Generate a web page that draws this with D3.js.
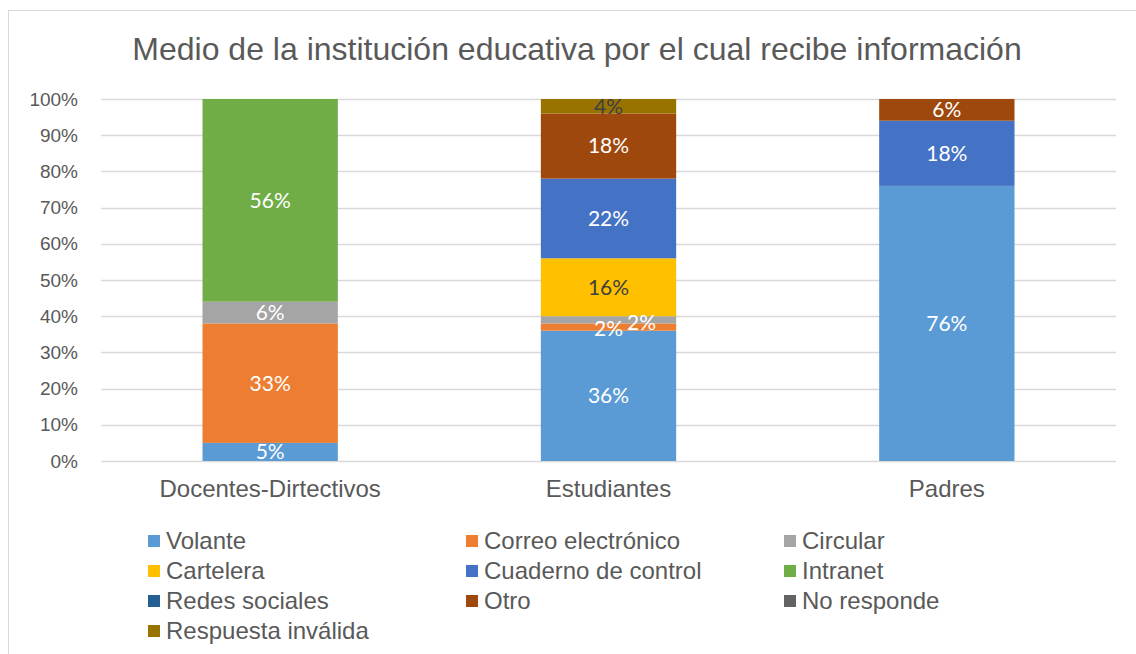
<!DOCTYPE html>
<html>
<head>
<meta charset="utf-8">
<script src="https://cdn.jsdelivr.net/npm/d3@7"></script>
<style>
  body { margin: 0; background: #fff; }
  svg text { font-family: "Liberation Sans", Arial, sans-serif; }
</style>
</head>
<body>
<div id="chart"></div>
<script>
// categories and series (percent of each group)
var categories = ["Docentes-Dirtectivos", "Estudiantes", "Padres"];
var seriesNames = ["Volante", "Correo electrónico", "Circular", "Cartelera",
                   "Cuaderno de control", "Intranet", "Redes sociales", "Otro",
                   "No responde", "Respuesta inválida"];
var volante    = [5, 36, 76];
var correo     = [33, 2, 0];
var circular   = [6, 2, 0];
var cartelera  = [0, 16, 0];
var cuaderno   = [0, 22, 18];
var intranet   = [56, 0, 0];
var redes      = [0, 0, 0];
var otro       = [0, 18, 6];
var noResponde = [0, 0, 0];
var invalida   = [0, 4, 0];
var yTicks = [0, 10, 20, 30, 40, 50, 60, 70, 80, 90, 100];

var seriesValues = [volante, correo, circular, cartelera, cuaderno,
                    intranet, redes, otro, noResponde, invalida];
var colors = ["#5B9BD5", "#ED7D31", "#A5A5A5", "#FFC000", "#4472C4",
              "#70AD47", "#255E91", "#9E480E", "#636363", "#997300"];
// labels drawn dark on light fills
var darkLabel = {"Cartelera": true, "Respuesta inválida": true};

var width = 1136, height = 654;
var plotLeft = 101, plotRight = 1116, plotTop = 99, plotBottom = 461;

var svg = d3.select("#chart").append("svg")
    .attr("width", width)
    .attr("height", height);

// chart frame
svg.append("rect")
    .attr("x", 8.5).attr("y", 10.5)
    .attr("width", 1140).attr("height", 660)
    .attr("fill", "none")
    .attr("stroke", "#d9d9d9");

svg.append("text")
    .attr("x", 577).attr("y", 60)
    .attr("text-anchor", "middle")
    .attr("font-size", 32)
    .attr("fill", "#595959")
    .text("Medio de la institución educativa por el cual recibe información");

// build rows for stacking
var rows = categories.map(function (c, i) {
    var r = {category: c};
    seriesNames.forEach(function (s, k) { r[s] = seriesValues[k][i]; });
    return r;
});
var stacked = d3.stack().keys(seriesNames)(rows);

var x = d3.scaleBand().domain(categories).range([plotLeft, plotRight]).padding(0);
var y = d3.scaleLinear().domain([0, 100]).range([plotBottom, plotTop]);
var barW = x.bandwidth() * 0.4;

// gridlines
svg.append("g")
    .selectAll("line")
    .data(yTicks)
    .enter().append("line")
    .attr("x1", plotLeft).attr("x2", plotRight)
    .attr("y1", function (d) { return Math.round(y(d)) + 0.5; })
    .attr("y2", function (d) { return Math.round(y(d)) + 0.5; })
    .attr("stroke", "#d9d9d9")
    .attr("stroke-width", 1.3);

// y axis labels
var yAxis = d3.axisLeft(y).tickValues(yTicks)
    .tickFormat(function (d) { return d + "%"; })
    .tickSize(0).tickPadding(23);
var gy = svg.append("g").attr("transform", "translate(" + plotLeft + ",0)").call(yAxis);
gy.select(".domain").remove();
gy.selectAll("text").attr("font-size", 19).attr("fill", "#595959")
    .attr("font-family", "Liberation Sans, Arial, sans-serif");

// x axis labels
var xAxis = d3.axisBottom(x).tickSize(0).tickPadding(19);
var gx = svg.append("g").attr("transform", "translate(0," + plotBottom + ")").call(xAxis);
gx.select(".domain").remove();
gx.selectAll("text").attr("font-size", 24).attr("fill", "#595959")
    .attr("font-family", "Liberation Sans, Arial, sans-serif");

// bars
var layers = svg.append("g").selectAll("g")
    .data(stacked)
    .enter().append("g")
    .attr("fill", function (d, i) { return colors[i]; });

layers.selectAll("rect")
    .data(function (d) { return d.filter(function (p) { return p[1] - p[0] > 0; }); })
    .enter().append("rect")
    .attr("x", function (d) { return x(d.data.category) + (x.bandwidth() - barW) / 2; })
    .attr("y", function (d) { return y(d[1]); })
    .attr("width", barW)
    .attr("height", function (d) { return y(d[0]) - y(d[1]); });

// data labels
var labels = [];
stacked.forEach(function (layer) {
    layer.forEach(function (d) {
        var v = d[1] - d[0];
        if (v > 0) labels.push({series: layer.key, category: d.data.category, lo: d[0], hi: d[1], v: v});
    });
});

svg.append("g").selectAll("text")
    .data(labels)
    .enter().append("text")
    .attr("x", function (d) {
        var cx = x(d.category) + x.bandwidth() / 2;
        // Excel moved this overlapping label aside
        if (d.category === "Estudiantes" && d.series === "Circular") cx += 33;
        return cx;
    })
    .attr("y", function (d) {
        var cy = y((d.lo + d.hi) / 2);
        if (d.category === "Estudiantes" && d.series === "Correo electrónico") cy += 2;
        if (d.category === "Estudiantes" && d.series === "Circular") cy += 3;
        return cy;
    })
    .attr("dy", "0.35em")
    .attr("text-anchor", "middle")
    .attr("font-size", 21)
    .style("font-family", "Lato, 'Open Sans', sans-serif")
    .attr("fill", function (d) { return darkLabel[d.series] ? "#404040" : "#ffffff"; })
    .text(function (d) { return d.v + "%"; });

// legend
var colX = [148, 466, 784];
var legend = svg.append("g").selectAll("g")
    .data(seriesNames)
    .enter().append("g")
    .attr("transform", function (d, i) {
        return "translate(" + colX[i % 3] + "," + (535 + Math.floor(i / 3) * 30) + ")";
    });
legend.append("rect")
    .attr("width", 12).attr("height", 12)
    .attr("fill", function (d, i) { return colors[i]; });
legend.append("text")
    .attr("x", 18).attr("y", 6)
    .attr("dy", "0.35em")
    .attr("font-size", 24)
    .attr("fill", "#595959")
    .text(function (d) { return d; });
</script>
</body>
</html>
